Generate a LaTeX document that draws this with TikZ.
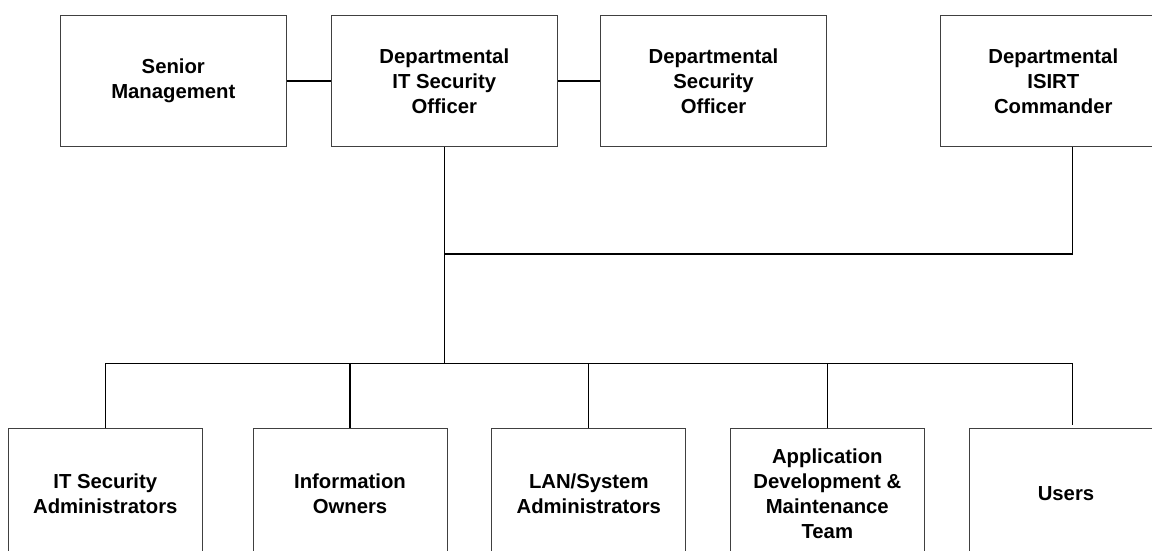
\documentclass[tikz,border=0pt]{standalone}
\usepackage{fontspec}
\setmainfont{Liberation Sans}
\begin{document}
\begin{tikzpicture}[x=1pt,y=-1pt,
  box/.style={draw=black!75,line width=1pt,fill=white,rectangle,align=center,
    font=\bfseries\fontsize{20.3}{25}\selectfont,inner sep=0pt},
  topbox/.style={box,minimum width=225.6pt,minimum height=130pt},
  botbox/.style={box,minimum width=194pt,minimum height=130pt},
  conn/.style={draw=black,line width=1.1pt}]
\useasboundingbox (0,0) rectangle (1152,551);
\clip (0,0) rectangle (1152,551);
% top row
\node[topbox] (sm) at (173.3,81) {Senior\\Management};
\node[topbox] (ditso) at (444.3,81) {Departmental\\IT Security\\Officer};
\node[topbox] (dso) at (713.5,81) {Departmental\\Security\\Officer};
\node[topbox] (isirt) at (1053.3,81) {Departmental\\ISIRT\\Commander};
% bottom row
\node[botbox] (itsa) at (105.3,493.7) {IT Security\\Administrators};
\node[botbox] (io) at (350,493.7) {Information\\Owners};
\node[botbox] (lan) at (588.8,493.7) {LAN/System\\Administrators};
\node[botbox] (app) at (827.3,493.7) {Application\\Development \&\\Maintenance\\Team};
\node[botbox] (users) at (1066,493.7) {Users};
% coordinates
\coordinate (j1) at (444.3,254);
\coordinate (bus) at (444.3,363.7);
\coordinate (busR) at (1072.5,363.7);
\coordinate (uend) at (1072.5,425);
% connectors
\draw[conn] (sm.east) -- (ditso.west);
\draw[conn] (ditso.east) -- (dso.west);
\draw[conn] (ditso.south) -- (bus);
\draw[conn] (isirt.south -| busR) |- (j1);
\draw[conn] (itsa.north) |- (busR) -- (uend);
\draw[conn] (bus -| io.north) -- (io.north);
\draw[conn] (bus -| lan.north) -- (lan.north);
\draw[conn] (bus -| app.north) -- (app.north);
\end{tikzpicture}
\end{document}
